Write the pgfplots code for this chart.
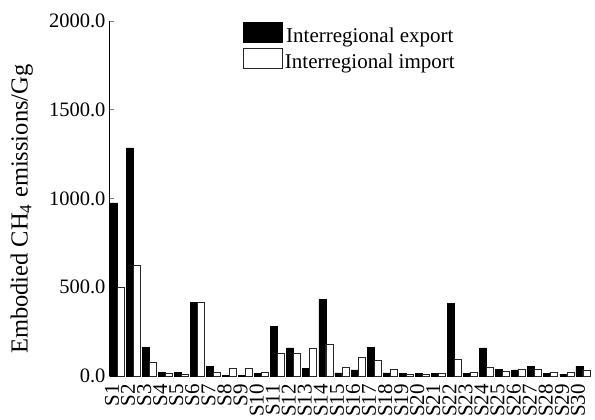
\documentclass[border=0pt]{standalone}
\usepackage{fontspec}
\setmainfont{Liberation Serif}
\usepackage{pgfplots}
\pgfplotsset{compat=1.18}
\begin{document}
\begin{tikzpicture}
\useasboundingbox (0,0) rectangle (595pt,420pt);
\begin{axis}[
  at={(109pt,44pt)}, anchor=south west,
  scale only axis, width=482pt, height=355pt,
  ybar=0pt, bar width=7pt,
  xmin=0.5, xmax=30.5, ymin=0, ymax=2000,
  axis y line=left, axis x line=bottom,
  axis line style={-, line width=0.9pt},
  x axis line style={draw=none},
  xtick={1,...,30},
  xticklabels={S1,S2,S3,S4,S5,S6,S7,S8,S9,S10,S11,S12,S13,S14,S15,S16,S17,S18,S19,S20,S21,S22,S23,S24,S25,S26,S27,S28,S29,S30},
  xticklabel style={xshift=-5pt, yshift=-2pt, rotate=90, anchor=east, font=\fontsize{21}{23}\selectfont},
  xtick style={draw=none},
  ytick={0,500,1000,1500,2000},
  ytick align=inside, major tick length=5pt,
  ytick style={line width=0.9pt},
  yticklabel style={font=\fontsize{20.5}{23}\selectfont, /pgf/number format/.cd, fixed, fixed zerofill, precision=1, 1000 sep={}, assume math mode=true},
  ylabel={Embodied CH\textsubscript{4} emissions/Gg},
  ylabel style={at={(axis description cs:-0.181,0.47)}, anchor=center, font=\fontsize{24.5}{27}\selectfont},
  legend style={draw=none, fill=none, inner sep=0pt, at={(rel axis cs:0.278,0.997)}, anchor=north west,
    font=\fontsize{21}{23}\selectfont, row sep=0pt, column sep=0pt,
    nodes={inner ysep=0pt, inner xsep=2pt, text height=15pt, text depth=5pt}},
  legend image code/.code={\draw[#1, line width=0.8pt] (0pt,-5pt) rectangle (39pt,15pt);},
  clip=false,
]
\addplot[fill=black, draw=black, line width=0.8pt] coordinates {
(1,975) (2,1285) (3,163) (4,20) (5,20) (6,415) (7,56) (8,5) (9,5) (10,15)
(11,277) (12,158) (13,45) (14,430) (15,17) (16,34) (17,163) (18,17) (19,15) (20,15)
(21,15) (22,411) (23,15) (24,158) (25,39) (26,34) (27,56) (28,15) (29,10) (30,56)};
\addplot[fill=white, draw=black!85, line width=0.8pt] coordinates {
(1,500) (2,625) (3,79) (4,15) (5,10) (6,415) (7,22) (8,40) (9,40) (10,22)
(11,130) (12,130) (13,158) (14,180) (15,51) (16,107) (17,90) (18,39) (19,10) (20,10)
(21,15) (22,96) (23,20) (24,51) (25,28) (26,38) (27,39) (28,22) (29,20) (30,34)};
\legend{Interregional export, Interregional import}
\end{axis}
\end{tikzpicture}
\end{document}
